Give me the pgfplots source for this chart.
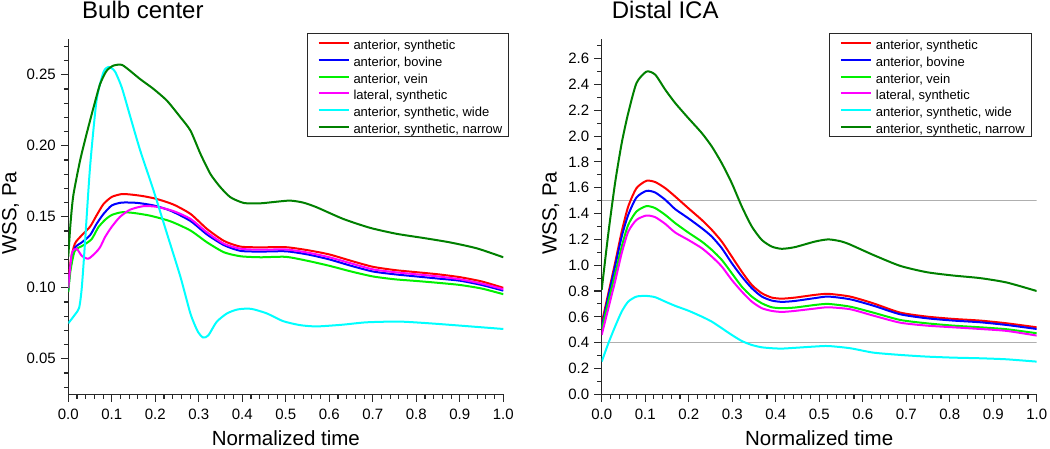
\documentclass[border=0pt]{standalone}
\usepackage{fontspec}
\setmainfont{Liberation Sans}
\usepackage{pgfplots}
\pgfplotsset{compat=1.18}
\definecolor{cRed}{RGB}{255,0,0}
\definecolor{cBlue}{RGB}{0,0,255}
\definecolor{cGreen}{RGB}{0,240,0}
\definecolor{cMag}{RGB}{255,0,255}
\definecolor{cCyan}{RGB}{0,255,255}
\definecolor{cDark}{RGB}{0,128,0}
\definecolor{cAxis}{RGB}{40,40,40}
\definecolor{cGray}{RGB}{175,175,175}
\pgfplotsset{
  common/.style={
    scale only axis, width=435pt, height=355pt,
    xmin=0, xmax=1,
    axis x line*=bottom, axis y line*=left,
    axis line style={-, draw=cAxis, line width=1.3pt},
    tick align=outside,
    major tick length=7.5pt, minor tick length=4.5pt,
    every tick/.style={draw=cAxis, line width=1.1pt},
    xtick={0,0.1,0.2,0.3,0.4,0.5,0.6,0.7,0.8,0.9,1.0},
    minor x tick num=4,
    /pgf/number format/assume math mode=true,
    ticklabel style={font=\fontsize{15}{15}\selectfont, inner sep=0pt},
    xticklabel style={anchor=base, yshift=-17.5pt, /pgf/number format/.cd, fixed, fixed zerofill, precision=1},
    yticklabel style={anchor=east, xshift=-4.8pt},
    xlabel={Normalized time},
    xlabel style={font=\fontsize{20.5}{20.5}\selectfont, at={(axis description cs:0.5,-0.1451)}, anchor=base, inner sep=0pt},
    ylabel={WSS, Pa},
    ylabel style={font=\fontsize{20.5}{20.5}\selectfont, anchor=base, inner sep=0pt},
    every axis plot/.append style={line width=2pt, smooth, tension=0.4},
    legend image code/.code={\path (0pt,0pt); \draw[#1, line width=2pt] (3.5pt,0pt) -- (33.5pt,0pt);},
    legend cell align=left,
    legend style={anchor=north east, draw=cAxis, line width=0.9pt, fill=white,
      font=\fontsize{13}{13}\selectfont, inner xsep=6.5pt, inner ysep=1.5pt,
      row sep=0pt, column sep=4pt,
      nodes={inner xsep=0pt, inner ysep=0.33pt, text height=14.5pt, text depth=1.5pt}},
  }
}
\begin{document}
\begin{tikzpicture}
\useasboundingbox (0pt,0pt) rectangle (1050pt,449pt);
% ---------------- Left: Bulb center
\begin{axis}[common, at={(68.3pt,54.7pt)}, anchor=south west,
  ymin=0.025, ymax=0.275,
  ytick={0.05,0.10,0.15,0.20,0.25},
  minor ytick={0.03,0.04,0.06,0.07,0.08,0.09,0.11,0.12,0.13,0.14,0.16,0.17,0.18,0.19,0.21,0.22,0.23,0.24,0.26,0.27},
  yticklabel style={/pgf/number format/.cd, fixed, fixed zerofill, precision=2},
  ylabel style={at={(axis description cs:-0.1191,0.51)}},
  legend style={at={(axis description cs:1.0138,1.0177)}},
]
\addplot[cRed] coordinates {(0,0.100)(0.005,0.118)(0.015,0.131)(0.031,0.137)(0.05,0.143)(0.065,0.151)(0.081,0.159)(0.1,0.164)(0.123,0.166)(0.146,0.1656)(0.173,0.1645)(0.204,0.1625)(0.242,0.1586)(0.281,0.152)(0.319,0.1414)(0.358,0.133)(0.396,0.129)(0.442,0.1285)(0.5,0.1286)(0.55,0.1265)(0.6,0.1235)(0.65,0.119)(0.7,0.1148)(0.75,0.1125)(0.8,0.111)(0.85,0.1095)(0.9,0.1075)(0.95,0.1045)(1.0,0.100)};
\addlegendentry{anterior, synthetic}
\addplot[cBlue] coordinates {(0,0.098)(0.005,0.115)(0.015,0.128)(0.031,0.132)(0.05,0.137)(0.065,0.145)(0.081,0.152)(0.1,0.158)(0.123,0.160)(0.158,0.1598)(0.196,0.158)(0.235,0.1543)(0.281,0.147)(0.319,0.1375)(0.358,0.130)(0.396,0.126)(0.442,0.1255)(0.5,0.1257)(0.55,0.1235)(0.6,0.120)(0.65,0.1155)(0.7,0.1115)(0.75,0.1095)(0.8,0.108)(0.85,0.1065)(0.9,0.105)(0.95,0.102)(1.0,0.098)};
\addlegendentry{anterior, bovine}
\addplot[cGreen] coordinates {(0,0.097)(0.005,0.112)(0.015,0.126)(0.035,0.130)(0.054,0.1344)(0.069,0.1426)(0.085,0.148)(0.1,0.1513)(0.123,0.1532)(0.15,0.1527)(0.188,0.1508)(0.235,0.1468)(0.281,0.1403)(0.319,0.132)(0.358,0.125)(0.396,0.1222)(0.442,0.1215)(0.5,0.1218)(0.55,0.119)(0.6,0.1155)(0.65,0.1115)(0.7,0.108)(0.75,0.106)(0.8,0.1048)(0.85,0.1035)(0.9,0.102)(0.95,0.0995)(1.0,0.0955)};
\addlegendentry{anterior, vein}
\addplot[cMag] coordinates {(0,0.100)(0.008,0.124)(0.019,0.1275)(0.031,0.1225)(0.046,0.1205)(0.062,0.1245)(0.073,0.1285)(0.085,0.136)(0.1,0.143)(0.119,0.150)(0.142,0.155)(0.173,0.1575)(0.204,0.157)(0.242,0.1540)(0.281,0.1485)(0.319,0.139)(0.358,0.131)(0.396,0.1275)(0.442,0.1268)(0.5,0.127)(0.55,0.1248)(0.6,0.1215)(0.65,0.1172)(0.7,0.113)(0.75,0.111)(0.8,0.1095)(0.85,0.108)(0.9,0.106)(0.95,0.103)(1.0,0.099)};
\addlegendentry{lateral, synthetic}
\addplot[cCyan] coordinates {(0,0.075)(0.015,0.081)(0.025,0.086)(0.031,0.100)(0.038,0.130)(0.05,0.185)(0.065,0.232)(0.081,0.252)(0.092,0.2555)(0.1,0.2545)(0.108,0.252)(0.123,0.241)(0.142,0.221)(0.165,0.197)(0.196,0.1685)(0.227,0.138)(0.258,0.1075)(0.281,0.0816)(0.298,0.069)(0.31,0.065)(0.322,0.0665)(0.341,0.076)(0.365,0.082)(0.39,0.0848)(0.42,0.0852)(0.456,0.082)(0.494,0.0765)(0.533,0.0737)(0.571,0.0728)(0.63,0.074)(0.686,0.0757)(0.762,0.0762)(0.839,0.0748)(0.916,0.073)(1.0,0.071)};
\addlegendentry{anterior, synthetic, wide}
\addplot[cDark] coordinates {(0,0.122)(0.005,0.145)(0.0115,0.165)(0.027,0.1895)(0.042,0.2083)(0.058,0.227)(0.073,0.2434)(0.088,0.2528)(0.104,0.2565)(0.123,0.257)(0.142,0.2528)(0.165,0.247)(0.196,0.240)(0.227,0.2317)(0.258,0.220)(0.281,0.2106)(0.304,0.1942)(0.327,0.180)(0.35,0.1707)(0.373,0.1637)(0.404,0.1597)(0.442,0.1595)(0.475,0.1605)(0.51,0.1614)(0.54,0.160)(0.571,0.1567)(0.632,0.1485)(0.694,0.1422)(0.755,0.138)(0.816,0.1351)(0.877,0.132)(0.939,0.1278)(1.0,0.1215)};
\addlegendentry{anterior, synthetic, narrow}
\end{axis}
% ---------------- Right: Distal ICA
\begin{axis}[common, at={(601.7pt,54.7pt)}, anchor=south west,
  ymin=0, ymax=2.75,
  ytick={0,0.2,0.4,0.6,0.8,1.0,1.2,1.4,1.6,1.8,2.0,2.2,2.4,2.6},
  minor ytick={0.1,0.3,0.5,0.7,0.9,1.1,1.3,1.5,1.7,1.9,2.1,2.3,2.5,2.7},
  yticklabel style={/pgf/number format/.cd, fixed, fixed zerofill, precision=1},
  ylabel style={at={(axis description cs:-0.1039,0.51)}},
  legend style={at={(axis description cs:0.9885,1.0177)}},
]
\addplot[cGray, line width=1.4pt, forget plot, sharp plot] coordinates {(0,1.5)(1,1.5)};
\addplot[cGray, line width=1.4pt, forget plot, sharp plot] coordinates {(0,0.4)(1,0.4)};
\addplot[cRed] coordinates {(0,0.55)(0.0153,0.783)(0.0307,1.016)(0.046,1.26)(0.061,1.455)(0.08,1.597)(0.103,1.654)(0.123,1.644)(0.146,1.597)(0.169,1.532)(0.199,1.442)(0.23,1.351)(0.253,1.274)(0.276,1.183)(0.299,1.067)(0.322,0.95)(0.345,0.847)(0.368,0.783)(0.391,0.749)(0.414,0.741)(0.444,0.749)(0.49,0.770)(0.521,0.778)(0.571,0.757)(0.624,0.705)(0.686,0.633)(0.747,0.602)(0.808,0.584)(0.87,0.571)(0.931,0.55)(1.0,0.519)};
\addlegendentry{anterior, synthetic}
\addplot[cBlue] coordinates {(0,0.52)(0.0153,0.76)(0.0307,0.99)(0.046,1.222)(0.061,1.39)(0.08,1.525)(0.103,1.576)(0.123,1.563)(0.146,1.507)(0.169,1.434)(0.199,1.364)(0.23,1.287)(0.253,1.222)(0.276,1.132)(0.299,1.016)(0.322,0.912)(0.345,0.822)(0.368,0.757)(0.391,0.726)(0.414,0.716)(0.444,0.723)(0.49,0.745)(0.521,0.757)(0.571,0.736)(0.624,0.687)(0.686,0.62)(0.747,0.589)(0.808,0.571)(0.87,0.558)(0.931,0.537)(1.0,0.506)};
\addlegendentry{anterior, bovine}
\addplot[cGreen] coordinates {(0,0.50)(0.0153,0.72)(0.0307,0.93)(0.046,1.144)(0.061,1.313)(0.08,1.416)(0.103,1.458)(0.123,1.442)(0.146,1.39)(0.169,1.326)(0.199,1.253)(0.23,1.183)(0.253,1.119)(0.276,1.041)(0.299,0.938)(0.322,0.834)(0.345,0.757)(0.368,0.705)(0.391,0.674)(0.414,0.667)(0.444,0.672)(0.49,0.692)(0.521,0.70)(0.571,0.679)(0.624,0.633)(0.686,0.576)(0.747,0.55)(0.808,0.532)(0.87,0.519)(0.931,0.504)(1.0,0.473)};
\addlegendentry{anterior, vein}
\addplot[cMag] coordinates {(0,0.46)(0.0153,0.667)(0.0307,0.873)(0.046,1.093)(0.061,1.26)(0.08,1.351)(0.103,1.385)(0.123,1.372)(0.146,1.32)(0.169,1.253)(0.199,1.196)(0.23,1.132)(0.253,1.067)(0.276,0.99)(0.299,0.886)(0.322,0.796)(0.345,0.718)(0.368,0.667)(0.391,0.646)(0.414,0.638)(0.444,0.646)(0.49,0.664)(0.521,0.674)(0.571,0.659)(0.624,0.61)(0.686,0.555)(0.747,0.532)(0.808,0.519)(0.87,0.506)(0.931,0.491)(1.0,0.455)};
\addlegendentry{lateral, synthetic}
\addplot[cCyan] coordinates {(0,0.253)(0.0153,0.395)(0.0307,0.524)(0.046,0.641)(0.061,0.718)(0.08,0.757)(0.103,0.762)(0.123,0.752)(0.146,0.718)(0.169,0.685)(0.199,0.648)(0.23,0.602)(0.253,0.563)(0.276,0.512)(0.299,0.46)(0.322,0.413)(0.345,0.382)(0.368,0.364)(0.391,0.357)(0.414,0.354)(0.444,0.36)(0.49,0.370)(0.521,0.374)(0.571,0.357)(0.624,0.323)(0.686,0.305)(0.747,0.292)(0.808,0.284)(0.87,0.279)(0.931,0.271)(1.0,0.253)};
\addlegendentry{anterior, synthetic, wide}
\addplot[cDark] coordinates {(0,0.81)(0.0153,1.248)(0.0307,1.636)(0.046,1.946)(0.061,2.179)(0.08,2.411)(0.103,2.50)(0.123,2.476)(0.146,2.36)(0.169,2.256)(0.199,2.14)(0.23,2.024)(0.253,1.92)(0.276,1.79)(0.299,1.636)(0.322,1.455)(0.345,1.30)(0.368,1.196)(0.391,1.144)(0.414,1.127)(0.444,1.14)(0.49,1.183)(0.521,1.20)(0.55,1.185)(0.571,1.16)(0.624,1.08)(0.686,0.995)(0.747,0.946)(0.808,0.92)(0.87,0.90)(0.931,0.866)(1.0,0.80)};
\addlegendentry{anterior, synthetic, narrow}
\end{axis}
\node[anchor=base west, inner sep=0pt, font=\fontsize{24}{24}\selectfont] at (82pt,430.7pt) {Bulb center};
\node[anchor=base west, inner sep=0pt, font=\fontsize{24}{24}\selectfont] at (611.7pt,430.7pt) {Distal ICA};
\end{tikzpicture}
\end{document}
